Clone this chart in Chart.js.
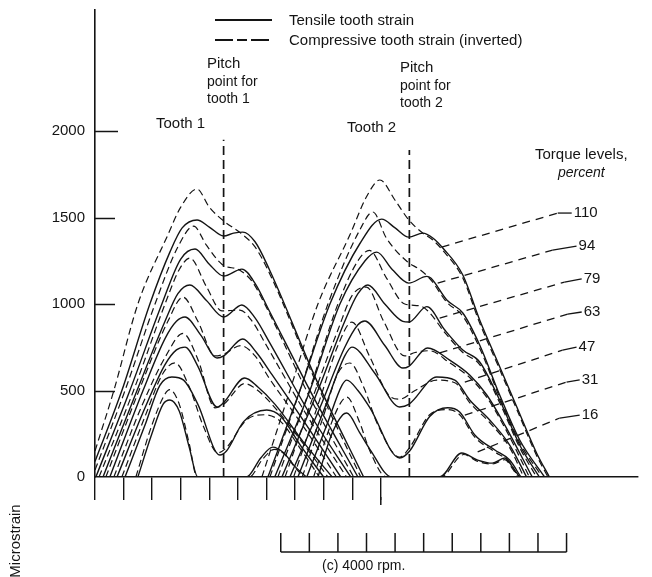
<!DOCTYPE html>
<html>
<head>
<meta charset="utf-8">
<script src="https://cdn.jsdelivr.net/npm/chart.js@4.4.1/dist/chart.umd.min.js"></script>
<style>
html, body { margin: 0; padding: 0; background: #fff; }
canvas { display: block; }
</style>
</head>
<body>
<canvas id="c" width="652" height="577"></canvas>
<script>
// Torque levels, percent -- every curve list below follows this order
const torqueLevels = [110, 94, 79, 63, 47, 31, 16];

// Each curve is a list of [roll position (tick units), microstrain]
const tooth1Tensile = [
  [[0,90],[0.94,500],[1.92,1000],[2.62,1300],[3.05,1440],[3.57,1486],[4.0,1445],[4.5,1393],[4.85,1410],[5.17,1416],[5.6,1360],[6.1,1200],[7.75,560],[9.4,0]],
  [[0.03,0],[1.22,500],[2.34,1000],[3.0,1260],[3.5,1318],[4.0,1230],[4.5,1162],[5.14,1202],[5.6,1120],[6.1,960],[7.65,460],[9.2,0]],
  [[0.28,0],[1.47,500],[2.45,900],[2.9,1060],[3.32,1110],[3.9,1020],[4.5,925],[5.14,994],[5.6,920],[6.1,780],[7.5,370],[8.95,0]],
  [[0.52,0],[1.68,500],[2.45,800],[2.85,900],[3.15,925],[3.7,820],[4.27,688],[4.5,700],[5.17,798],[5.65,720],[6.2,590],[7.4,300],[8.6,0]],
  [[0.77,0],[1.75,400],[2.45,650],[2.85,735],[3.15,751],[3.6,640],[4.27,405],[4.5,430],[5.24,572],[5.7,520],[6.3,420],[7.3,200],[8.3,0]],
  [[1.05,0],[1.75,300],[2.27,530],[2.69,578],[3.1,560],[3.6,420],[4.37,127],[4.6,150],[5.2,320],[6.01,387],[6.5,350],[7.2,180],[8.0,0]],
  [[1.5,0],[1.99,250],[2.38,420],[2.62,445],[2.95,380],[3.3,170],[3.6,0],[5.3,0],[5.8,110],[6.22,173],[6.6,140],[7.0,60],[7.4,0]]
];
const tooth1Compressive = [
  [[0,150],[0.66,500],[1.5,1000],[2.55,1400],[3.0,1560],[3.57,1665],[4.0,1560],[4.55,1474],[5.1,1410],[5.6,1330],[6.1,1180],[7.7,560],[9.3,0]],
  [[0,40],[1.05,500],[2.1,1000],[2.9,1330],[3.45,1450],[3.9,1340],[4.44,1230],[5.07,1195],[5.5,1130],[6.0,980],[7.55,450],[9.05,0]],
  [[0.14,0],[1.35,500],[2.45,1000],[2.95,1200],[3.32,1266],[3.9,1100],[4.44,960],[5.07,965],[5.5,900],[6.0,760],[7.4,360],[8.8,0]],
  [[0.38,0],[1.54,500],[2.55,900],[3.08,1040],[3.6,900],[4.2,700],[4.5,710],[5.1,760],[5.6,700],[6.1,570],[7.3,290],[8.45,0]],
  [[0.66,0],[1.61,400],[2.48,700],[3.08,830],[3.6,680],[4.2,400],[4.5,420],[5.24,540],[5.7,500],[6.3,400],[7.3,190],[8.15,0]],
  [[0.94,0],[1.75,350],[2.38,600],[2.8,660],[3.3,520],[3.8,290],[4.3,140],[4.6,170],[5.3,330],[5.94,360],[6.5,320],[7.2,160],[7.85,0]],
  [[1.43,0],[1.99,300],[2.45,480],[2.62,505],[2.95,420],[3.3,190],[3.57,0],[5.4,0],[5.85,100],[6.29,160],[6.65,130],[7.0,55],[7.3,0]]
];
const tooth2Tensile = [
  [[6.05,0],[7.17,500],[8.22,1000],[9.27,1350],[10.03,1491],[10.5,1440],[10.98,1387],[11.47,1410],[11.82,1382],[12.17,1324],[12.87,1168],[13.46,908],[14.06,676],[14.76,405],[15.45,139],[15.9,0]],
  [[6.29,0],[7.52,500],[8.57,1000],[9.45,1250],[9.86,1300],[10.4,1200],[10.98,1121],[11.61,1160],[11.75,1150],[12.31,1023],[12.87,948],[13.46,763],[14.16,474],[14.86,214],[15.73,0]],
  [[6.54,0],[7.8,500],[8.74,900],[9.2,1060],[9.55,1110],[10.14,1000],[10.77,900],[10.98,896],[11.61,985],[12.24,850],[12.87,734],[13.46,665],[14.16,445],[14.86,185],[15.55,0]],
  [[6.82,0],[7.87,400],[8.74,750],[9.2,880],[9.44,902],[10.14,760],[10.77,630],[10.98,640],[11.64,746],[12.41,676],[13.11,590],[13.71,474],[14.34,300],[15.3,0]],
  [[7.1,0],[8.04,400],[8.74,700],[8.99,751],[9.79,600],[10.66,405],[10.98,420],[11.96,578],[12.59,560],[13.11,445],[13.81,330],[14.51,185],[15.1,0]],
  [[7.41,0],[8.11,300],[8.64,530],[8.81,560],[9.2,500],[9.62,400],[10.66,110],[11.01,150],[11.71,350],[12.34,400],[12.76,376],[13.29,243],[13.99,156],[14.51,98],[14.9,0]],
  [[7.8,0],[8.29,250],[8.67,360],[8.81,370],[9.25,260],[9.62,160],[10.38,0],[12.06,0],[12.83,139],[13.39,98],[13.9,80],[14.34,110],[14.6,60],[14.85,0]]
];
const tooth2Compressive = [
  [[5.84,0],[6.82,500],[7.8,1000],[8.92,1400],[9.5,1620],[9.97,1717],[10.5,1600],[10.98,1486],[11.47,1410],[11.82,1370],[12.17,1310],[12.87,1150],[13.46,890],[14.06,660],[14.76,390],[15.45,125],[15.85,0]],
  [[6.12,0],[7.17,500],[8.15,1000],[9.27,1430],[9.72,1532],[10.2,1380],[10.94,1243],[11.36,1200],[11.75,1140],[12.31,1010],[12.87,930],[13.46,745],[14.16,460],[14.86,200],[15.65,0]],
  [[6.4,0],[7.5,500],[8.5,1000],[9.2,1250],[9.6,1310],[10.2,1150],[10.84,1000],[11.36,990],[11.65,960],[12.24,835],[12.87,720],[13.46,650],[14.16,430],[14.86,170],[15.45,0]],
  [[6.65,0],[7.6,450],[8.5,850],[9.0,1050],[9.5,1098],[10.1,900],[10.84,700],[11.2,720],[11.7,730],[12.41,660],[13.11,575],[13.71,460],[14.34,285],[15.2,0]],
  [[6.95,0],[7.87,450],[8.5,760],[8.99,896],[9.6,700],[10.3,470],[10.66,450],[11.2,500],[11.96,560],[12.59,545],[13.11,430],[13.81,315],[14.51,170],[15.0,0]],
  [[7.25,0],[7.95,330],[8.5,600],[8.92,659],[9.4,520],[9.9,300],[10.66,115],[11.01,170],[11.71,360],[12.34,390],[12.76,360],[13.29,230],[13.99,145],[14.51,85],[14.8,0]],
  [[7.65,0],[8.2,280],[8.6,430],[8.81,462],[9.25,320],[9.62,150],[10.2,0],[12.1,0],[12.9,130],[13.39,90],[13.9,75],[14.34,100],[14.6,50],[14.8,0]]
];

// Pitch points of the two teeth and the height their markers reach
const pitchPoints = [4.5, 11.0];
const pitchMarkerTops = [1950, 1890];

// Torque-level callouts: point on the curve -> start of solid stub -> end of stub
const leaderCurvePoints = [[12.13,1329],[11.99,1121],[12.06,919],[12.06,717],[12.94,549],[12.94,358],[13.39,145]];
const leaderStubStarts  = [[16.19,1526],[16.01,1312],[16.43,1127],[16.54,942],[16.36,734],[16.50,549],[16.26,341]];
const leaderStubEnds    = [[16.68,1526],[16.85,1335],[17.03,1145],[17.03,954],[16.85,751],[16.96,561],[16.96,358]];

// Axis ticks
const yTickValues = [0, 500, 1000, 1500, 2000];
const xTickValues = [0, 1, 2, 3, 4, 5, 6, 7, 8, 9, 10];
const rollScaleTicks = [6.5, 7.5, 8.5, 9.5, 10.5, 11.5, 12.5, 13.5, 14.5, 15.5, 16.5];

const INK = '#141414';
const FONT = "'Liberation Sans', Arial, Helvetica, sans-serif";

const datasets = [];
function addCurves(list, dashed) {
  list.forEach((pts, i) => {
    datasets.push({
      label: (dashed ? 'compressive ' : 'tensile ') + torqueLevels[i],
      data: pts,
      borderColor: INK,
      borderWidth: dashed ? 1.2 : 1.4,
      borderDash: dashed ? [7, 4] : [],
      pointRadius: 0,
      fill: false,
      cubicInterpolationMode: 'monotone'
    });
  });
}
addCurves(tooth1Tensile, false);
addCurves(tooth1Compressive, true);
addCurves(tooth2Tensile, false);
addCurves(tooth2Compressive, true);

pitchPoints.forEach((p, i) => {
  datasets.push({
    label: 'pitch ' + (i + 1),
    data: [[p, 0], [p, pitchMarkerTops[i]]],
    borderColor: INK,
    borderWidth: 1.7,
    borderDash: [9, 5],
    pointRadius: 0,
    tension: 0
  });
});

leaderCurvePoints.forEach((pt, i) => {
  datasets.push({
    label: 'leader ' + torqueLevels[i],
    data: [pt, leaderStubStarts[i], leaderStubEnds[i]],
    borderColor: INK,
    borderWidth: 1.3,
    pointRadius: 0,
    tension: 0,
    clip: false,
    segment: { borderDash: ctx => ctx.p0DataIndex === 0 ? [8, 6] : [] }
  });
});

function seg(ctx, x1, y1, x2, y2) {
  ctx.beginPath(); ctx.moveTo(x1, y1); ctx.lineTo(x2, y2); ctx.stroke();
}
function text(ctx, s, x, y, size, opts = {}) {
  ctx.font = (opts.italic ? 'italic ' : '') + size + 'px ' + FONT;
  ctx.textAlign = opts.align || 'left';
  ctx.textBaseline = 'middle';
  ctx.fillText(s, x, y);
}

const decorations = {
  id: 'decorations',
  beforeDraw(chart) {
    const ctx = chart.ctx;
    ctx.save();
    ctx.fillStyle = '#fff';
    ctx.fillRect(0, 0, chart.width, chart.height);
    ctx.restore();
  },
  afterDraw(chart) {
    const { ctx, chartArea, scales: { x, y } } = chart;
    ctx.save();
    ctx.strokeStyle = INK;
    ctx.fillStyle = INK;
    ctx.lineWidth = 1.5;

    // inward tick marks on the strain axis
    yTickValues.filter(v => v > 0).forEach(v => {
      const py = Math.round(y.getPixelForValue(v)) + 0.5;
      seg(ctx, chartArea.left, py, chartArea.left + (v === 2000 ? 23 : 20), py);
    });

    // longer last tick on the lower axis
    const lastX = x.getPixelForValue(xTickValues[xTickValues.length - 1]);
    seg(ctx, lastX, chartArea.bottom + 20, lastX, chartArea.bottom + 28);

    // roll-angle bracket scale below the plot
    const by = chartArea.bottom + 75, bt = chartArea.bottom + 56;
    const bx0 = x.getPixelForValue(rollScaleTicks[0]);
    const bx1 = x.getPixelForValue(rollScaleTicks[rollScaleTicks.length - 1]);
    seg(ctx, bx0, by, bx1, by);
    rollScaleTicks.forEach(v => {
      const px = x.getPixelForValue(v);
      seg(ctx, px, by, px, bt);
    });
    text(ctx, '(c) 4000 rpm.', (bx0 + bx1) / 2 - 60, by + 14, 14, { align: 'center' });

    // legend
    ctx.lineWidth = 1.8;
    seg(ctx, 215, 20, 272, 20);
    ctx.setLineDash([18, 4, 10, 4]);
    seg(ctx, 215, 40, 272, 40);
    ctx.setLineDash([]);
    text(ctx, 'Tensile tooth strain', 289, 21, 15);
    text(ctx, 'Compressive tooth strain (inverted)', 289, 41, 15);

    // pitch point and tooth captions
    text(ctx, 'Pitch', 207, 64, 15);
    text(ctx, 'point for', 207, 82, 14);
    text(ctx, 'tooth 1', 207, 99, 14);
    text(ctx, 'Pitch', 400, 68, 15);
    text(ctx, 'point for', 400, 86, 14);
    text(ctx, 'tooth 2', 400, 103, 14);
    text(ctx, 'Tooth 1', 156, 124, 15);
    text(ctx, 'Tooth 2', 347, 128, 15);

    // torque level callouts
    text(ctx, 'Torque levels,', 535, 155, 15);
    text(ctx, 'percent', 558, 173, 14, { italic: true });
    leaderStubEnds.forEach((p, i) => {
      text(ctx, String(torqueLevels[i]), x.getPixelForValue(p[0]) + 2, y.getPixelForValue(p[1]), 15);
    });

    // rotated axis title
    ctx.save();
    ctx.translate(16, 541);
    ctx.rotate(-Math.PI / 2);
    text(ctx, 'Microstrain', 0, 0, 15, { align: 'center' });
    ctx.restore();

    ctx.restore();
  }
};

new Chart(document.getElementById('c'), {
  type: 'line',
  data: { datasets },
  options: {
    responsive: false,
    devicePixelRatio: 1,
    animation: false,
    layout: { padding: { top: 10, right: 14, bottom: 75, left: 0 } },
    plugins: { legend: { display: false }, tooltip: { enabled: false } },
    scales: {
      x: {
        type: 'linear',
        min: 0,
        max: 19,
        afterBuildTicks: s => { s.ticks = xTickValues.map(v => ({ value: v })); },
        afterFit: s => { s.height = 25; s.paddingLeft = 0; s.paddingRight = 0; },
        ticks: { display: false },
        grid: { drawOnChartArea: false, drawTicks: true, tickLength: 23, color: INK, lineWidth: 1.4 },
        border: { display: true, color: INK, width: 1.6 }
      },
      y: {
        type: 'linear',
        min: 0,
        max: 2700,
        afterBuildTicks: s => { s.ticks = yTickValues.map(v => ({ value: v })); },
        afterFit: s => { s.width = 95; s.paddingTop = 0; s.paddingBottom = 0; },
        ticks: { color: INK, padding: 10, font: { family: FONT, size: 15 }, callback: v => String(v) },
        grid: { drawOnChartArea: false, drawTicks: false },
        border: { display: true, color: INK, width: 1.6 }
      }
    }
  },
  plugins: [decorations]
});
</script>
</body>
</html>
